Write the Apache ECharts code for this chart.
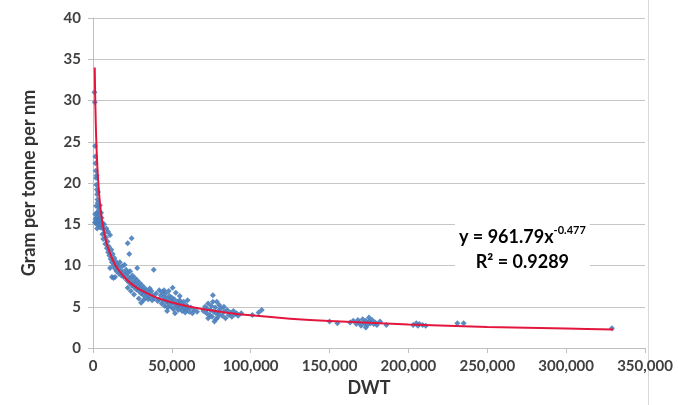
<!DOCTYPE html>
<html>
<head>
<meta charset="utf-8">
<script src="https://cdn.jsdelivr.net/npm/echarts@6/dist/echarts.min.js"></script>
<style>
  html, body { margin: 0; padding: 0; background: #fff; }
  #chart { width: 678px; height: 405px; }
</style>
</head>
<body>
<div id="chart"></div>
<script>
// ship points: [DWT, gram per tonne per nm]
var shipPoints = [
  [900,31.0],[1100,29.8],[1300,24.5],[1500,23.2],[1600,22.4],[1800,21.5],[2000,20.6],[2100,19.8],
  [2300,20.9],[2500,19.2],[2600,18.6],[2800,18.0],[3000,17.6],[3200,18.9],[3400,17.1],[3600,16.7],
  [1400,16.2],[1600,15.6],[1900,15.1],[2200,15.8],[2400,16.4],[2700,15.3],[3100,14.9],[3300,15.7],
  [3700,15.4],[4000,16.1],[4300,15.0],[4600,14.6],[5000,15.3],[5400,15.8],[5800,14.7],[6200,15.1],
  [6600,14.4],[7000,15.0],[2000,17.2],[2900,16.3],[4400,17.3],[5100,16.4],[1200,15.2],[2600,14.5],
  [6000,13.8],[6500,13.2],[7200,13.9],[7800,12.6],[8200,13.4],[8800,12.1],[9200,12.9],[9600,11.6],
  [10000,12.3],[10400,11.2],[10800,13.7],[11200,10.8],[11600,11.9],[12000,10.4],[12500,11.4],[13000,10.0],
  [13500,10.9],[14000,9.6],[14500,10.5],[15000,9.3],[15500,10.1],[16000,9.8],[16500,9.0],[17000,10.4],
  [17500,9.4],[18000,8.8],[10800,9.7],[12000,8.6],[13000,8.5],[14000,8.6],[8500,14.5],[9500,14.1],
  [22000,12.7],[24500,13.3],[23000,11.4],[28000,9.7],[38500,9.5],[36000,7.2],[30500,5.5],[42000,7.0],
  [18500,9.9],[19000,9.2],[19500,8.6],[20000,10.1],[20500,8.9],[21000,9.5],[21500,8.2],[22000,9.1],
  [22500,8.6],[23000,7.9],[23500,9.3],[24000,8.4],[24500,7.6],[25000,8.8],[25500,8.0],[26000,7.4],
  [26500,8.5],[27000,7.8],[27500,7.1],[28000,8.2],[28500,7.5],[29000,6.9],[29500,7.9],[30000,7.2],
  [30500,6.6],[31000,7.6],[31500,7.0],[32000,6.4],[32500,7.3],[33000,6.8],[33500,6.1],[34000,7.0],
  [34500,6.5],[35000,5.9],[35500,6.7],[36000,6.2],[37000,6.9],[37500,5.8],[38000,6.4],[39000,6.0],
  [40000,6.6],[41000,5.7],[26000,6.5],[24000,6.9],[22000,7.3],[29000,6.0],[32000,5.8],
  [42000,5.9],[43000,6.4],[43500,5.4],[44000,6.8],[44500,5.8],[45000,6.2],[45500,5.1],[46000,6.6],
  [46500,5.6],[47000,6.0],[47500,4.9],[48000,5.4],[48500,6.3],[49000,5.7],[49500,5.0],[50000,6.1],
  [50500,5.5],[51000,4.7],[51500,5.9],[52000,5.3],[52500,6.7],[53000,5.0],[53500,5.6],[54000,4.6],
  [54500,5.2],[55000,5.8],[55500,4.9],[56000,5.4],[56500,4.5],[57000,5.1],[57500,5.6],[58000,4.8],
  [58500,4.3],[59000,5.2],[59500,4.7],[60000,5.0],[61000,4.4],[62000,4.9],[63000,4.2],[64000,4.6],
  [50500,7.3],[47000,4.5],[52000,4.2],[45000,7.0],[55000,6.3],[48000,6.9],[60000,5.8],[66000,4.4],
  [70000,4.5],[71000,5.0],[72000,4.2],[72500,4.7],[73000,5.4],[74000,4.0],[74500,4.6],[75000,5.1],
  [75500,3.8],[76000,6.4],[76500,4.4],[77000,3.2],[77500,4.9],[78000,4.2],[78500,5.6],[79000,3.7],
  [79500,4.5],[80000,4.1],[81000,4.8],[82000,3.9],[83000,4.4],[84000,3.6],[85000,4.6],[86000,4.0],
  [87000,4.3],[88000,3.8],[89000,4.5],[90000,4.1],[91000,4.2],[92000,3.9],[94000,4.2],[76000,5.6],
  [80000,5.2],[83000,5.0],[73000,3.6],[78000,3.5],
  [101000,4.0],[107000,4.6],[105000,4.3],
  [150000,3.2],[155000,3.0],[163000,3.1],[165000,3.3],[167000,2.9],[168000,3.4],[169000,3.1],[170000,2.7],
  [171000,3.5],[172000,3.0],[173000,3.3],[174000,2.8],[175000,3.2],[176000,3.0],[177000,3.4],[178000,2.9],
  [179000,3.1],[180000,2.8],[182000,3.2],[186000,2.8],[173000,2.5],[175000,3.7],
  [203000,2.8],[205000,3.0],[206000,2.7],[207000,2.9],[209000,2.8],[211000,2.7],
  [231000,3.0],[235000,3.0],[329000,2.4]
];

// points
var trendDwt  = [1100,1300,1500,1750,2000,2500,3000,4000,5000,6000,7000,8500,10000,12500,15000,20000,25000,30000,40000,50000,60000,70000,85000,100000,125000,150000,200000,250000,300000,330000];
var trendGram = [34.0,31.5,29.4,27.3,25.6,23.0,21.1,18.4,16.5,15.2,14.1,12.8,11.9,10.7,9.79,8.54,7.68,7.04,6.13,5.52,5.06,4.70,4.28,3.96,3.56,3.27,2.85,2.56,2.35,2.24];

var eqMain = 'y = 961.79x';
var eqPower = '-0.477';
var eqR2 = 'R² = 0.9289';

var trendPoints = [];
trendDwt.forEach(function (d, i) {
  trendPoints.push([d, trendGram[i]]);
});

var fontName = 'Lato, "Open Sans", sans-serif';
var myChart = echarts.init(document.getElementById('chart'));
myChart.setOption({
  animation: false,
  grid: { left: 93, right: 33, top: 18, bottom: 57 },
  xAxis: {
    type: 'value',
    min: 0, max: 350000, interval: 50000,
    name: 'DWT',
    nameLocation: 'middle',
    nameGap: 28,
    nameTextStyle: { fontFamily: fontName, fontSize: 18, fontWeight: 'bold', color: '#333' },
    axisLine: { show: true, lineStyle: { color: '#bfbfbf' } },
    axisTick: { show: true, length: 5, lineStyle: { color: '#bfbfbf' } },
    splitLine: { show: false },
    axisLabel: {
      margin: 11,
      fontFamily: fontName, fontSize: 15, fontWeight: 'bold', color: '#404040',
      formatter: function (v) { return v.toLocaleString('en-US'); }
    }
  },
  yAxis: {
    type: 'value',
    min: 0, max: 40, interval: 5,
    name: 'Gram per tonne per nm',
    nameLocation: 'middle',
    nameGap: 55,
    nameTextStyle: { fontFamily: fontName, fontSize: 18, fontWeight: 'bold', color: '#333' },
    axisLine: { show: true, lineStyle: { color: '#bfbfbf' } },
    axisTick: { show: true, length: 5, lineStyle: { color: '#bfbfbf' } },
    splitLine: { show: true, lineStyle: { color: '#c6c6c6', width: 1 } },
    axisLabel: { margin: 12, fontFamily: fontName, fontSize: 15, fontWeight: 'bold', color: '#404040' }
  },
  series: [
    {
      name: 'ships',
      type: 'scatter',
      symbol: 'diamond',
      symbolSize: 6,
      itemStyle: { color: '#4a7ebb', opacity: 0.9 },
      data: shipPoints
    },
    {
      name: 'trend',
      type: 'line',
      smooth: 0.3,
      showSymbol: false,
      lineStyle: { color: '#e3173e', width: 2 },
      z: 5,
      data: trendPoints
    }
  ],
  graphic: [
    {
      type: 'line',
      shape: { x1: 648.5, y1: 0, x2: 648.5, y2: 405 },
      style: { stroke: '#d9d9d9', lineWidth: 1 }
    },
    {
      type: 'text',
      left: 455,
      top: 223,
      z: 10,
      style: {
        text: '{m|' + eqMain + '}{s|' + eqPower + '}\n{m|' + eqR2 + '}',
        align: 'center',
        backgroundColor: '#fff',
        padding: [2, 4, 2, 4],
        rich: {
          m: { fontFamily: fontName, fontSize: 18, fontWeight: 'bold', color: '#262626', lineHeight: 25, align: 'center' },
          s: { fontFamily: fontName, fontSize: 11, fontWeight: 'bold', color: '#262626', verticalAlign: 'top', lineHeight: 25 }
        }
      }
    }
  ]
});
</script>
</body>
</html>
